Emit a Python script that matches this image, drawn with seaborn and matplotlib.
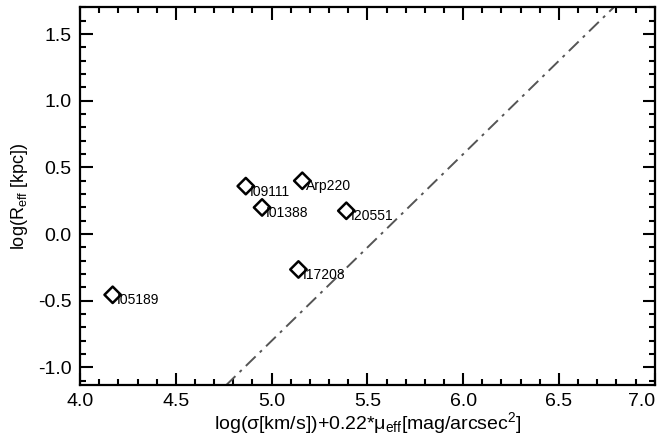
"""
Relacion log(R_eff) vs combinacion sigma + mu_eff para ULIRGs
"""

import matplotlib
matplotlib.use('Agg')
import matplotlib.pyplot as plt
from matplotlib.ticker import MultipleLocator, FixedLocator, FormatStrFormatter
import pandas as pd
import seaborn as sns

# datos
galaxias = ['I09111', 'Arp220', 'I01388', 'I20551', 'I17208', 'I05189']
x_val = [4.865, 5.16, 4.95, 5.39, 5.14, 4.17]
log_reff = [0.36, 0.40, 0.20, 0.175, -0.265, -0.455]

# recta del plano fundamental (dash-dot)
linea_x = [4.76, 6.79]
linea_y = [-1.136, 1.706]

xticks = [4.0, 4.5, 5.0, 5.5, 6.0, 6.5, 7.0]
yticks = [-1.0, -0.5, 0.0, 0.5, 1.0, 1.5]

sns.set_theme(style='ticks')
plt.rcParams['font.family'] = ['Liberation Sans', 'DejaVu Sans']
plt.rcParams['mathtext.fontset'] = 'custom'
plt.rcParams['mathtext.rm'] = 'Liberation Sans'
plt.rcParams['mathtext.it'] = 'Liberation Sans'

df = pd.DataFrame({'x': x_val, 'y': log_reff, 'nombre': galaxias})

fig = plt.figure(figsize=(6.62, 4.48), dpi=100)
ax = fig.add_axes([0.121, 0.141, 0.868, 0.844])

sns.lineplot(x=linea_x, y=linea_y, ax=ax, color='#555555', lw=1.4,
             linestyle=(0, (7, 3, 1.5, 3)))
sns.scatterplot(data=df, x='x', y='y', ax=ax, marker='D', s=70,
                facecolor='none', edgecolor='black', linewidth=1.8, zorder=3)

for _, r in df.iterrows():
    ax.annotate(r['nombre'], (r['x'], r['y']), xytext=(3, -4),
                textcoords='offset points', ha='left', va='center',
                fontsize=10, color='black')

ax.set_xlim(4.0, 7.0)
ax.set_ylim(-1.13, 1.705)
ax.xaxis.set_major_locator(FixedLocator(xticks))
ax.xaxis.set_minor_locator(MultipleLocator(0.1))
ax.yaxis.set_major_locator(FixedLocator(yticks))
ax.yaxis.set_minor_locator(MultipleLocator(0.1))
ax.xaxis.set_major_formatter(FormatStrFormatter('%.1f'))
ax.yaxis.set_major_formatter(FormatStrFormatter('%.1f'))
ax.tick_params(which='both', direction='in', top=True, right=True, width=1.5,
               labelsize=14, pad=6, colors='black')
ax.tick_params(which='major', length=9)
ax.tick_params(which='minor', length=4.5)
for sp in ax.spines.values():
    sp.set_linewidth(1.6)
    sp.set_color('black')

ax.set_xlabel(r'log(σ[km/s])+0.22*μ$_{\rm eff}$[mag/arcsec$^{2}$]',
              fontsize=14, labelpad=0, color='black')
ax.set_ylabel(r'log(R$_{\rm eff}$ [kpc])', fontsize=13, labelpad=6, color='black')

# el ultimo rotulo del eje x queda dentro de la figura
ticks_x = ax.xaxis.get_major_ticks(len(xticks))
ticks_x[-1].label1.set_horizontalalignment('right')

fig.savefig('out.png', dpi=100)
plt.close('all')
